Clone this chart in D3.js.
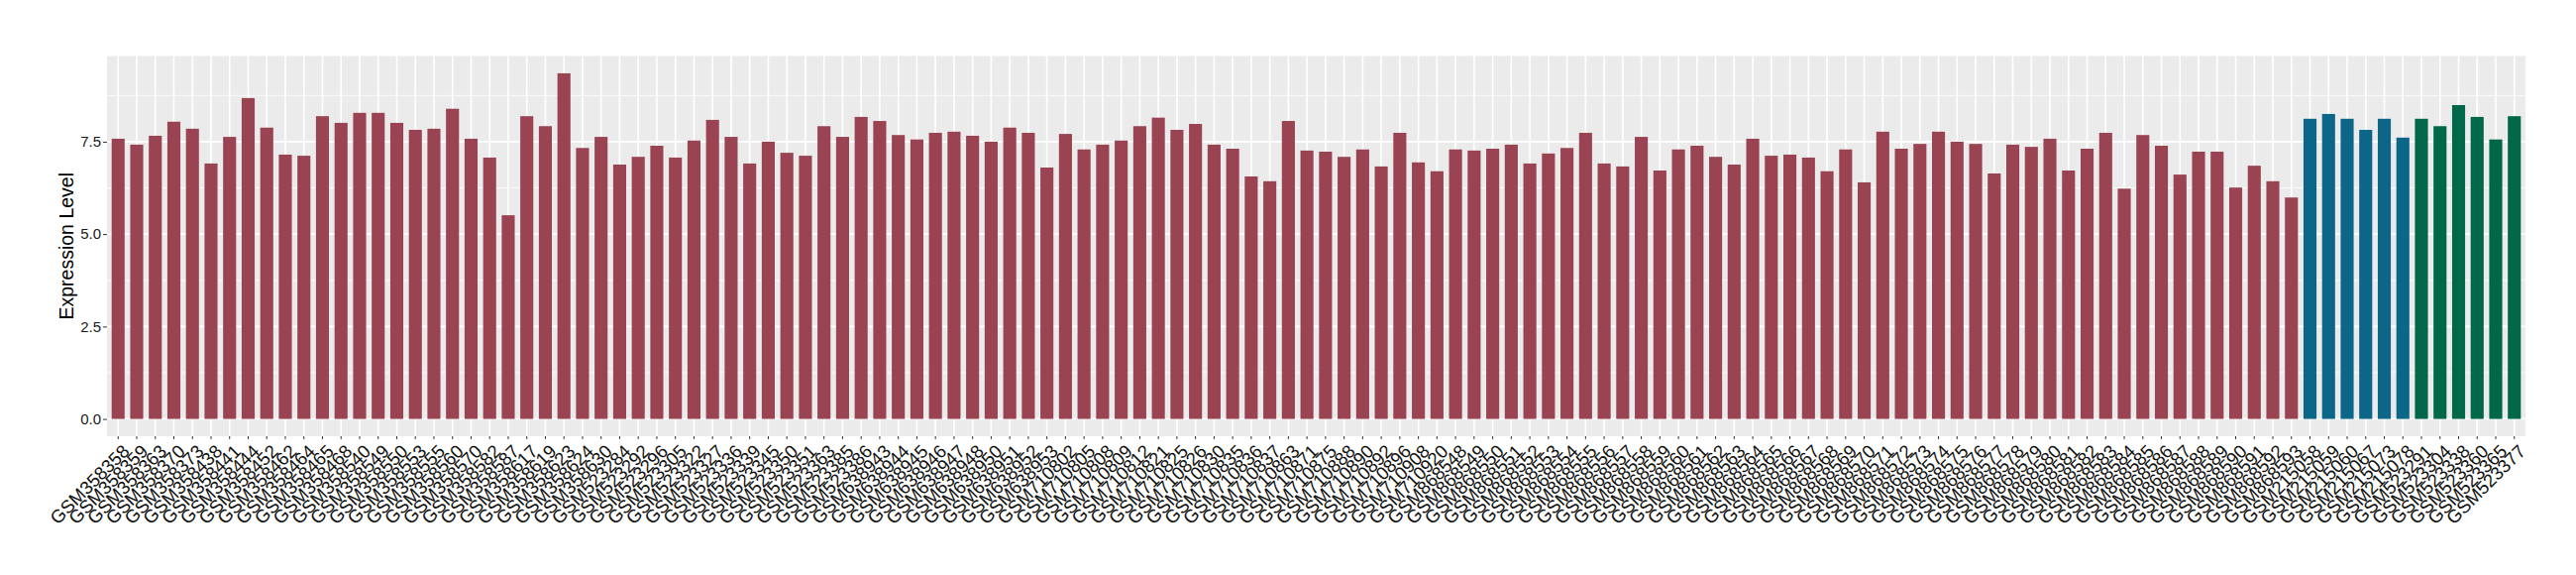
<!DOCTYPE html>
<html>
<head>
<meta charset="utf-8">
<script src="https://cdn.jsdelivr.net/npm/d3@7"></script>
<style>
  html, body { margin: 0; padding: 0; background: #ffffff; }
  svg { display: block; }
</style>
</head>
<body>
<svg id="chart"></svg>
<script>
// sample ids and expression levels, three groups in plot order
const groupOneIds = [
    'GSM358358', 'GSM358359', 'GSM358363', 'GSM358370', 'GSM358373', 'GSM358438', 'GSM358441', 'GSM358444',
    'GSM358452', 'GSM358462', 'GSM358464', 'GSM358465', 'GSM358468', 'GSM358540', 'GSM358549', 'GSM358550',
    'GSM358553', 'GSM358555', 'GSM358560', 'GSM358570', 'GSM358582', 'GSM358587', 'GSM358617', 'GSM358619',
    'GSM358623', 'GSM358624', 'GSM358630', 'GSM523284', 'GSM523292', 'GSM523296', 'GSM523305', 'GSM523322',
    'GSM523327', 'GSM523336', 'GSM523339', 'GSM523345', 'GSM523350', 'GSM523351', 'GSM523363', 'GSM523385',
    'GSM523386', 'GSM638943', 'GSM638944', 'GSM638945', 'GSM638946', 'GSM638947', 'GSM638948', 'GSM638950',
    'GSM638951', 'GSM638952', 'GSM638953', 'GSM710802', 'GSM710805', 'GSM710808', 'GSM710809', 'GSM710812',
    'GSM710821', 'GSM710825', 'GSM710826', 'GSM710830', 'GSM710835', 'GSM710836', 'GSM710837', 'GSM710863',
    'GSM710871', 'GSM710875', 'GSM710888', 'GSM710890', 'GSM710892', 'GSM710896', 'GSM710908', 'GSM710920',
    'GSM868548', 'GSM868549', 'GSM868550', 'GSM868551', 'GSM868552', 'GSM868553', 'GSM868554', 'GSM868555',
    'GSM868556', 'GSM868557', 'GSM868558', 'GSM868559', 'GSM868560', 'GSM868561', 'GSM868562', 'GSM868563',
    'GSM868564', 'GSM868565', 'GSM868566', 'GSM868567', 'GSM868568', 'GSM868569', 'GSM868570', 'GSM868571',
    'GSM868572', 'GSM868573', 'GSM868574', 'GSM868575', 'GSM868576', 'GSM868577', 'GSM868578', 'GSM868579',
    'GSM868580', 'GSM868581', 'GSM868582', 'GSM868583', 'GSM868584', 'GSM868585', 'GSM868586', 'GSM868587',
    'GSM868588', 'GSM868589', 'GSM868590', 'GSM868591', 'GSM868592', 'GSM868593'
];
const groupOneValues = [
    7.58, 7.42, 7.66, 8.04, 7.85, 6.91, 7.63, 8.68,
    7.88, 7.15, 7.12, 8.19, 8.01, 8.28, 8.28, 8.01,
    7.82, 7.85, 8.39, 7.58, 7.07, 5.51, 8.19, 7.92,
    9.35, 7.33, 7.63, 6.88, 7.09, 7.39, 7.07, 7.53,
    8.09, 7.63, 6.91, 7.50, 7.20, 7.12, 7.92, 7.63,
    8.17, 8.06, 7.68, 7.56, 7.74, 7.77, 7.66, 7.50,
    7.88, 7.74, 6.80, 7.71, 7.29, 7.42, 7.53, 7.92,
    8.15, 7.82, 7.98, 7.42, 7.31, 6.56, 6.43, 8.06,
    7.26, 7.23, 7.09, 7.29, 6.83, 7.74, 6.94, 6.70,
    7.29, 7.26, 7.31, 7.42, 6.91, 7.18, 7.33, 7.74,
    6.91, 6.83, 7.63, 6.72, 7.29, 7.39, 7.09, 6.88,
    7.58, 7.12, 7.15, 7.07, 6.70, 7.29, 6.40, 7.77,
    7.31, 7.44, 7.77, 7.50, 7.44, 6.64, 7.42, 7.36,
    7.58, 6.72, 7.31, 7.74, 6.23, 7.68, 7.39, 6.61,
    7.23, 7.23, 6.26, 6.85, 6.43, 5.99
];
const groupTwoIds = ['GSM215058', 'GSM215059', 'GSM215060', 'GSM215067', 'GSM215073', 'GSM215078'];
const groupTwoValues = [8.12, 8.25, 8.12, 7.82, 8.12, 7.61];
const groupThreeIds = ['GSM523291', 'GSM523304', 'GSM523338', 'GSM523360', 'GSM523365', 'GSM523377'];
const groupThreeValues = [8.12, 7.92, 8.49, 8.17, 7.56, 8.19];
const yTicks = [0, 2.5, 5, 7.5];

const groupColors = ['#9A4352', '#0B6688', '#006848'];

const W = 2600;
const H = 580;
const PANEL = { left: 108, right: 2549, top: 56.5, bottom: 440 };
const FONT = '"Liberation Sans", Arial, Helvetica, sans-serif';

const rows = [];
[[groupOneIds, groupOneValues], [groupTwoIds, groupTwoValues], [groupThreeIds, groupThreeValues]]
    .forEach(([ids, vals], g) => ids.forEach((id, i) => rows.push({ id, value: vals[i], group: g })));

const svg = d3.select('#chart').attr('width', W).attr('height', H);

// discrete scale: 0.6 step expansion each side, bar width 0.7
const x = d3.scaleBand()
    .domain(rows.map(d => d.id))
    .range([PANEL.left, PANEL.right])
    .paddingInner(0.3)
    .paddingOuter(0.25);

const yMax = d3.max(rows, d => d.value);
const y = d3.scaleLinear()
    .domain([-0.05 * yMax, yMax * 1.05])
    .range([PANEL.bottom, PANEL.top]);

svg.append('rect')
    .attr('x', PANEL.left)
    .attr('y', PANEL.top)
    .attr('width', PANEL.right - PANEL.left)
    .attr('height', PANEL.bottom - PANEL.top)
    .attr('fill', '#EBEBEB');

const minorTicks = yTicks.map(v => v + 1.25).filter(v => y(v) > PANEL.top);

const grid = svg.append('g');

grid.selectAll('line.minor')
    .data(minorTicks)
    .join('line')
    .attr('class', 'minor')
    .attr('x1', PANEL.left).attr('x2', PANEL.right)
    .attr('y1', d => y(d)).attr('y2', d => y(d))
    .attr('stroke', '#ffffff')
    .attr('stroke-width', 0.8);

grid.selectAll('line.major')
    .data(yTicks)
    .join('line')
    .attr('class', 'major')
    .attr('x1', PANEL.left).attr('x2', PANEL.right)
    .attr('y1', d => y(d)).attr('y2', d => y(d))
    .attr('stroke', '#ffffff')
    .attr('stroke-width', 1.6);

grid.selectAll('line.vert')
    .data(rows)
    .join('line')
    .attr('class', 'vert')
    .attr('x1', d => x(d.id) + x.bandwidth() / 2)
    .attr('x2', d => x(d.id) + x.bandwidth() / 2)
    .attr('y1', PANEL.top).attr('y2', PANEL.bottom)
    .attr('stroke', '#ffffff')
    .attr('stroke-width', 1.6);

svg.append('g')
    .selectAll('rect')
    .data(rows)
    .join('rect')
    .attr('x', d => x(d.id))
    .attr('y', d => y(d.value))
    .attr('width', x.bandwidth())
    .attr('height', d => y(0) - y(d.value))
    .attr('fill', d => groupColors[d.group]);

// y axis
const yAxis = svg.append('g')
    .attr('transform', `translate(${PANEL.left},0)`)
    .call(d3.axisLeft(y).tickValues(yTicks).tickFormat(d3.format('.1f')).tickSize(4).tickPadding(2));
yAxis.select('.domain').remove();
yAxis.selectAll('.tick line').attr('stroke', '#333333').attr('stroke-width', 1);
yAxis.selectAll('.tick text')
    .style('font-family', FONT)
    .style('font-size', '15px')
    .attr('fill', '#1a1a1a');

// x axis
const xAxis = svg.append('g')
    .attr('transform', `translate(0,${PANEL.bottom})`)
    .call(d3.axisBottom(x).tickSize(3).tickFormat(''));
xAxis.select('.domain').remove();
xAxis.selectAll('.tick line').attr('stroke', '#333333').attr('stroke-width', 1);

svg.append('g')
    .selectAll('text')
    .data(rows)
    .join('text')
    .attr('transform', d => `translate(${x(d.id) + x.bandwidth() / 2 + 3},${PANEL.bottom + 7}) rotate(-45)`)
    .attr('text-anchor', 'end')
    .attr('dy', '0.72em')
    .style('font-family', FONT)
    .style('font-size', '18.5px')
    .attr('fill', '#111111')
    .text(d => d.id);

svg.append('text')
    .attr('transform', `translate(67,${(PANEL.top + PANEL.bottom) / 2}) rotate(-90)`)
    .attr('text-anchor', 'middle')
    .attr('dy', '0.35em')
    .style('font-family', FONT)
    .style('font-size', '19.5px')
    .attr('fill', '#000000')
    .text('Expression Level');
</script>
</body>
</html>
